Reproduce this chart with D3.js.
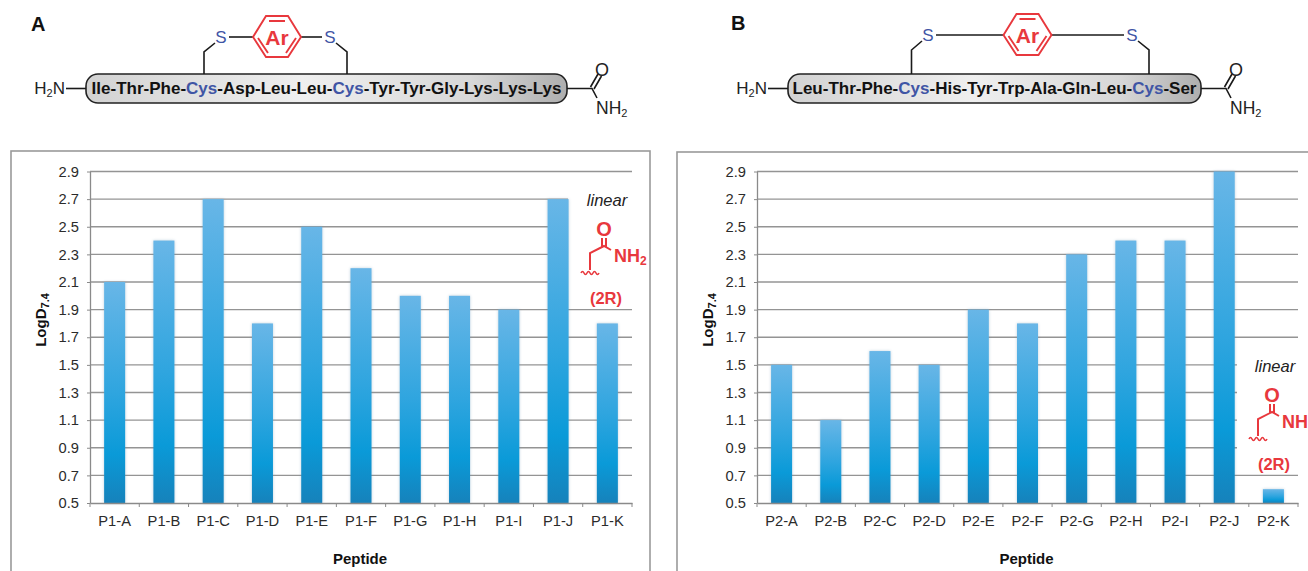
<!DOCTYPE html>
<html>
<head>
<meta charset="utf-8">
<script src="https://cdn.jsdelivr.net/npm/d3@7"></script>
<style>
  html, body { margin: 0; padding: 0; background: #fff; overflow: hidden; }
  svg { display: block; font-family: "Liberation Sans", Arial, sans-serif; }
</style>
</head>
<body>
<script>
const categoriesA = ['P1-A', 'P1-B', 'P1-C', 'P1-D', 'P1-E', 'P1-F', 'P1-G', 'P1-H', 'P1-I', 'P1-J', 'P1-K']
const categoriesB = ['P2-A', 'P2-B', 'P2-C', 'P2-D', 'P2-E', 'P2-F', 'P2-G', 'P2-H', 'P2-I', 'P2-J', 'P2-K']
const valuesA = [2.1, 2.4, 2.7, 1.8, 2.5, 2.2, 2.0, 2.0, 1.9, 2.7, 1.8]
const valuesB = [1.5, 1.1, 1.6, 1.5, 1.9, 1.8, 2.3, 2.4, 2.4, 2.9, 0.6]
const yTicks = [0.5, 0.7, 0.9, 1.1, 1.3, 1.5, 1.7, 1.9, 2.1, 2.3, 2.5, 2.7, 2.9]
const sequenceA = ['Ile-Thr-Phe-', 'Cys', '-Asp-Leu-Leu-', 'Cys', '-Tyr-Tyr-Gly-Lys-Lys-Lys']
const sequenceB = ['Leu-Thr-Phe-', 'Cys', '-His-Tyr-Trp-Ala-Gln-Leu-', 'Cys', '-Ser']

const width = 1308
const height = 571
const red = '#e8383d'
const blue = '#3f55a5'

const svg = d3.select('body').append('svg')
    .attr('width', width)
    .attr('height', height)

const defs = svg.append('defs')

const barGrad = defs.append('linearGradient')
    .attr('id', 'barGrad')
    .attr('x1', 0).attr('x2', 0).attr('y1', 0).attr('y2', 1)
barGrad.selectAll('stop')
    .data([[0, '#68b6e7'], [0.5, '#2fa5df'], [0.78, '#0a9ad8'], [1, '#1682bb']])
    .join('stop')
    .attr('offset', d => d[0])
    .attr('stop-color', d => d[1])

const pillGrad = defs.append('linearGradient')
    .attr('id', 'pillGrad')
    .attr('x1', 0).attr('x2', 1).attr('y1', 0).attr('y2', 0)
pillGrad.selectAll('stop')
    .data([[0, '#d2d2d2'], [0.45, '#efefef'], [0.8, '#d8d8d8'], [1, '#aeaeae']])
    .join('stop')
    .attr('offset', d => d[0])
    .attr('stop-color', d => d[1])

function chart(opt) {
    const g = svg.append('g')

    g.append('rect')
        .attr('x', opt.frame[0])
        .attr('y', opt.frame[2])
        .attr('width', opt.frame[1] - opt.frame[0])
        .attr('height', 500)
        .attr('fill', '#fff')
        .attr('stroke', '#9a9a9a')
        .attr('stroke-width', 1.6)

    const x = d3.scaleBand()
        .domain(opt.categories)
        .range(opt.range)

    const y = d3.scaleLinear()
        .domain([0.5, 2.9])
        .range([503, 171.5])

    // gridlines
    g.append('g')
        .selectAll('line')
        .data(yTicks.slice(1))
        .join('line')
        .attr('x1', opt.range[0])
        .attr('x2', opt.range[1])
        .attr('y1', d => y(d))
        .attr('y2', d => y(d))
        .attr('stroke', '#949494')
        .attr('stroke-width', 1.3)

    // white box behind the annotation hides the gridlines
    g.append('rect')
        .attr('x', opt.mask[0])
        .attr('y', opt.mask[1])
        .attr('width', opt.mask[2])
        .attr('height', opt.mask[3])
        .attr('fill', '#fff')

    g.append('g')
        .selectAll('rect')
        .data(opt.values)
        .join('rect')
        .attr('x', (d, i) => x(opt.categories[i]) + (x.bandwidth() - 21) / 2)
        .attr('y', d => y(d))
        .attr('width', 21)
        .attr('height', d => y(0.5) - y(d))
        .attr('fill', 'url(#barGrad)')
        .style('filter', 'drop-shadow(0 0 1.5px rgba(110,150,180,.45))')

    const yAxis = g.append('g')
        .attr('transform', `translate(${opt.range[0]},0)`)
        .call(d3.axisLeft(y).tickValues(yTicks).tickFormat(d3.format('.1f')).tickSize(3).tickSizeOuter(0).tickPadding(8))
    const xAxis = g.append('g')
        .attr('transform', 'translate(0,503)')
        .call(d3.axisBottom(x).tickSize(0).tickPadding(13))

    for (const a of [xAxis, yAxis]) {
        a.selectAll('.domain').attr('stroke', '#8a8a8a').attr('stroke-width', 1.3)
        a.selectAll('line').attr('stroke', '#8a8a8a')
        a.selectAll('text').attr('fill', '#2b2b2b').attr('font-size', 14.7)
            .attr('font-family', '"Liberation Sans", Arial, sans-serif')
    }

    // Excel style ticks sit between the categories
    g.append('g')
        .selectAll('line')
        .data(opt.categories.concat(['end']))
        .join('line')
        .attr('x1', d => d === 'end' ? opt.range[1] : x(d))
        .attr('x2', d => d === 'end' ? opt.range[1] : x(d))
        .attr('y1', 503)
        .attr('y2', 507)
        .attr('stroke', '#8a8a8a')

    g.append('text')
        .attr('x', (opt.range[0] + opt.range[1]) / 2 - 1)
        .attr('y', 564)
        .attr('text-anchor', 'middle')
        .attr('font-weight', 'bold')
        .attr('font-size', 15)
        .attr('fill', '#111')
        .text('Peptide')

    const yTitle = g.append('text')
        .attr('transform', `translate(${opt.range[0] - 44},320) rotate(-90)`)
        .attr('text-anchor', 'middle')
        .attr('font-weight', 'bold')
        .attr('font-size', 15)
        .attr('fill', '#111')
    yTitle.append('tspan').text('LogD')
    yTitle.append('tspan').attr('dy', 3).attr('font-size', 11).text('7.4')
}

function sidechain(ox, oy) {
    const g = svg.append('g').attr('transform', `translate(${ox},${oy})`)
    g.append('text')
        .attr('x', 0).attr('y', 0)
        .attr('text-anchor', 'middle')
        .attr('font-style', 'italic')
        .attr('font-size', 16.5)
        .attr('fill', '#222')
        .text('linear')
    g.append('path')
        .attr('d', 'M-17,64 L-17,47 L-3,40 L4,44 M-5,41 L-5,32 M-1,41 L-1,32')
        .attr('fill', 'none')
        .attr('stroke', red)
        .attr('stroke-width', 2)
    g.append('path')
        .attr('d', 'M-26,67 q1.5,-3 3,0 t3,0 t3,0 t3,0 t3,0 t3,0')
        .attr('fill', 'none')
        .attr('stroke', red)
        .attr('stroke-width', 1.6)
    g.append('text')
        .attr('x', -3).attr('y', 30)
        .attr('text-anchor', 'middle')
        .attr('font-weight', 'bold')
        .attr('font-size', 20)
        .attr('fill', red)
        .text('O')
    const nh = g.append('text')
        .attr('x', 7).attr('y', 56)
        .attr('font-weight', 'bold')
        .attr('font-size', 18)
        .attr('fill', red)
    nh.append('tspan').text('NH')
    nh.append('tspan').attr('dy', 3).attr('font-size', 12).text('2')
    g.append('text')
        .attr('x', -1).attr('y', 98)
        .attr('text-anchor', 'middle')
        .attr('font-weight', 'bold')
        .attr('font-size', 16.5)
        .attr('fill', red)
        .text('(2R)')
}

function structure(opt) {
    const g = svg.append('g')
    const line = (d, c, w) => g.append('path')
        .attr('d', d)
        .attr('fill', 'none')
        .attr('stroke', c || '#1a1a1a')
        .attr('stroke-width', w || 1.6)

    g.append('text')
        .attr('x', opt.label[0]).attr('y', opt.label[1])
        .attr('font-weight', 'bold')
        .attr('font-size', 20)
        .attr('fill', '#111')
        .text(opt.name)

    // peptide pill
    g.append('rect')
        .attr('x', opt.pill[0]).attr('y', 74)
        .attr('width', opt.pill[1] - opt.pill[0]).attr('height', 29)
        .attr('rx', 12)
        .attr('fill', 'url(#pillGrad)')
        .attr('stroke', '#222')
        .attr('stroke-width', 1.6)
    const seq = g.append('text')
        .attr('x', (opt.pill[0] + opt.pill[1]) / 2)
        .attr('y', 94)
        .attr('text-anchor', 'middle')
        .attr('font-weight', 'bold')
        .attr('font-size', 17)
        .attr('fill', '#111')
    opt.sequence.forEach(s => {
        seq.append('tspan').attr('fill', s === 'Cys' ? blue : '#111').text(s)
    })

    // N terminus
    const n = g.append('text')
        .attr('x', opt.pill[0] - 21).attr('y', 94)
        .attr('text-anchor', 'end')
        .attr('font-size', 17)
        .attr('fill', '#222')
    n.append('tspan').text('H')
    n.append('tspan').attr('dy', 3).attr('font-size', 11).text('2')
    n.append('tspan').attr('dy', -3).text('N')
    line(`M${opt.pill[0] - 20},88.5 L${opt.pill[0]},88.5`)

    // C terminus
    const c = opt.cterm
    line(`M${opt.pill[1]},88.5 L${c},88.5 L${c + 5},98 M${c - 1.5},87 L${c + 6},74 M${c + 2},89 L${c + 9.5},76`)
    g.append('text').attr('x', c + 10).attr('y', 76)
        .attr('text-anchor', 'middle').attr('font-size', 18).attr('fill', '#222').text('O')
    const nh2 = g.append('text').attr('x', c + 4).attr('y', 114)
        .attr('font-size', 17.5).attr('fill', '#222')
    nh2.append('tspan').text('NH')
    nh2.append('tspan').attr('dy', 3).attr('font-size', 11).text('2')

    // linker
    const [x1, x2] = opt.links
    const [s1, s2] = opt.sulfur
    const cy = opt.ring[1]
    const rx = opt.ring[0]
    line(`M${x1},74 L${x1},${cy + 15} L${s1 - 6},${cy + 6}`)
    line(`M${x2},74 L${x2},${cy + 15} L${s2 + 6},${cy + 6}`)
    line(`M${s1 + 8},${cy} L${rx - 24},${cy}`)
    line(`M${rx + 24},${cy} L${s2 - 8},${cy}`)
    for (const s of [s1, s2]) {
        g.append('text').attr('x', s).attr('y', cy + 6)
            .attr('text-anchor', 'middle').attr('font-size', 17).attr('fill', blue).text('S')
    }

    // aryl ring
    line(`M${rx - 24},${cy} L${rx - 11},${cy - 21} L${rx + 11},${cy - 21} L${rx + 24},${cy} L${rx + 11},${cy + 20} L${rx - 11},${cy + 20} Z`, red, 1.9)
    line(`M${rx - 8},${cy - 16} L${rx + 8},${cy - 16} M${rx - 19},${cy + 1} L${rx - 9},${cy + 16} M${rx + 19},${cy + 1} L${rx + 9},${cy + 16}`, red, 1.9)
    g.append('text').attr('x', rx).attr('y', cy + 8)
        .attr('text-anchor', 'middle')
        .attr('font-weight', 'bold')
        .attr('font-size', 21)
        .attr('fill', red)
        .text('Ar')
}

chart({categories: categoriesA, values: valuesA, frame: [11, 650, 151], range: [90, 632], mask: [568, 185, 70, 120]})
chart({categories: categoriesB, values: valuesB, frame: [677, 1340, 152], range: [757, 1298], mask: [1237, 345, 71, 129]})

sidechain(607, 206)
sidechain(1275, 372)

structure({name: 'A', label: [31, 31], pill: [86, 567], sequence: sequenceA, cterm: 592,
    links: [204, 347], sulfur: [221, 330], ring: [277, 37]})
structure({name: 'B', label: [731, 30], pill: [788, 1201], sequence: sequenceB, cterm: 1226,
    links: [911.5, 1149], sulfur: [928, 1132], ring: [1027.5, 35]})
</script>
</body>
</html>
